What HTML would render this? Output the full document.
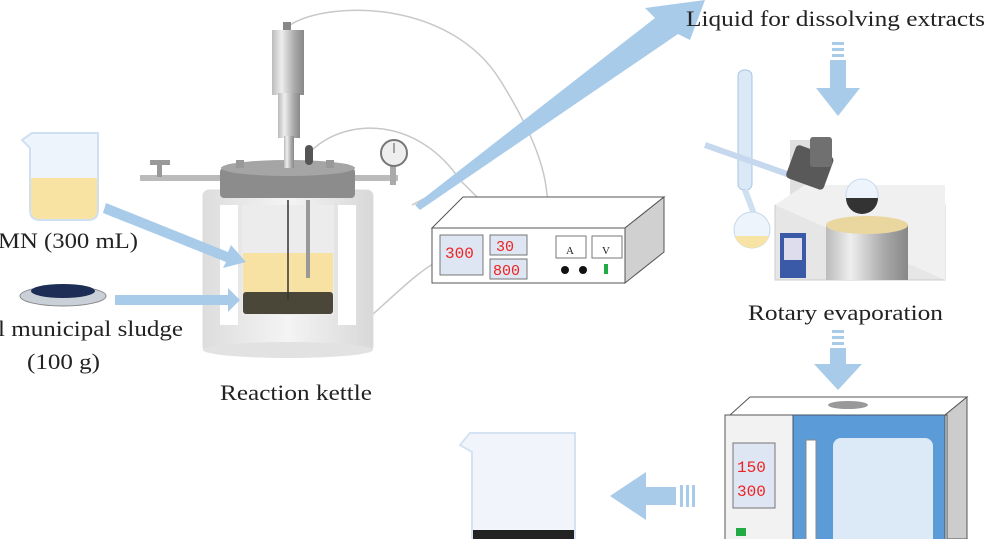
<!DOCTYPE html>
<html><head><meta charset="utf-8"><style>
html,body{margin:0;padding:0;background:#fff;width:1000px;height:539px;overflow:hidden}
svg text{font-family:"Liberation Serif",serif;fill:#222}
</style></head><body>
<svg width="1000" height="539" viewBox="0 0 1000 539" xmlns="http://www.w3.org/2000/svg">
<defs>
<linearGradient id="cyl" x1="0" x2="1"><stop offset="0" stop-color="#bbb"/><stop offset="0.3" stop-color="#eee"/><stop offset="0.7" stop-color="#aaa"/><stop offset="1" stop-color="#888"/></linearGradient>
<linearGradient id="jack" x1="0" x2="1"><stop offset="0" stop-color="#ddd"/><stop offset="0.5" stop-color="#f4f4f4"/><stop offset="1" stop-color="#d8d8d8"/></linearGradient>
</defs>
<!-- wires -->
<g fill="none" stroke="#c8c8c8" stroke-width="1.5">
<path d="M290 25 C330 0 450 0 500 80 S545 190 548 200"/>
<path d="M312 150 C350 115 420 120 460 180 L480 200"/>
<path d="M372 315 C400 290 420 270 440 260"/>
<path d="M412 205 L440 190"/>
</g>
<!-- big diagonal arrow -->
<path d="M415 205 L655 18 L645 8 L705 0 L690 40 L678 34 L420 210 Z" fill="#a9cbea"/>
<!-- left beaker -->
<path d="M22 140 L32 133 L98 133 L98 210 Q98 220 88 220 L40 220 Q30 220 30 210 L30 148 Z" fill="#eef4fb" stroke="#cfe0f2" stroke-width="2"/>
<path d="M31 178 L97 178 L97 210 Q97 219 88 219 L40 219 Q31 219 31 210 Z" fill="#f8e3a3"/>
<text x="-2" y="248" font-size="22" textLength="140" lengthAdjust="spacingAndGlyphs">MN (300 mL)</text>
<!-- dish -->
<ellipse cx="63" cy="296" rx="43" ry="10" fill="#c9d0d8" stroke="#888"/>
<ellipse cx="63" cy="291" rx="32" ry="7" fill="#1e2d55"/>
<text x="-2" y="336" font-size="22" textLength="185" lengthAdjust="spacingAndGlyphs">l municipal sludge</text>
<text x="27" y="369" font-size="22" textLength="73" lengthAdjust="spacingAndGlyphs">(100 g)</text>
<!-- kettle -->
<rect x="203" y="190" width="170" height="162" rx="6" fill="url(#jack)" stroke="#ddd"/>
<ellipse cx="288" cy="350" rx="85" ry="8" fill="#e2e2e2"/>
<rect x="220" y="205" width="18" height="120" fill="#fff"/>
<rect x="338" y="205" width="18" height="120" fill="#fff"/>
<rect x="242" y="205" width="92" height="110" fill="#ececec"/>
<rect x="243" y="253" width="90" height="40" fill="#f7e2a4"/>
<rect x="243" y="292" width="90" height="22" rx="3" fill="#4b4738"/>
<line x1="288" y1="200" x2="288" y2="300" stroke="#333" stroke-width="1.5"/>
<rect x="306" y="200" width="4" height="78" fill="#999"/>
<!-- feed arrows -->
<path d="M106 203 L228 252 L231 245 L246 262 L223 268 L226 262 L103 213 Z" fill="#a9cbea"/>
<path d="M115 295 L228 295 L228 288 L240 300 L228 312 L228 305 L115 305 Z" fill="#a9cbea"/>
<!-- pipes & valves -->
<rect x="140" y="175" width="85" height="6" fill="#bbb"/>
<rect x="150" y="160" width="20" height="5" fill="#999"/><rect x="157" y="163" width="5" height="14" fill="#999"/>
<rect x="350" y="175" width="48" height="6" fill="#bbb"/>
<rect x="390" y="165" width="6" height="20" fill="#aaa"/>
<circle cx="394" cy="153" r="13" fill="#eee" stroke="#777" stroke-width="2"/>
<line x1="394" y1="153" x2="394" y2="143" stroke="#555"/>
<!-- lid -->
<rect x="220" y="168" width="135" height="30" rx="4" fill="#8c8c8c"/>
<ellipse cx="288" cy="168" rx="67" ry="8" fill="#a5a5a5"/>
<rect x="236" y="160" width="8" height="8" fill="#999"/><rect x="326" y="160" width="8" height="8" fill="#999"/>
<rect x="305" y="145" width="8" height="20" rx="4" fill="#555"/>
<!-- motor -->
<rect x="283" y="22" width="8" height="10" fill="#888"/>
<rect x="272" y="30" width="32" height="65" fill="url(#cyl)"/>
<rect x="278" y="93" width="22" height="45" fill="url(#cyl)"/>
<rect x="284" y="136" width="10" height="32" fill="url(#cyl)"/>
<text x="220" y="400" font-size="22" textLength="152" lengthAdjust="spacingAndGlyphs">Reaction kettle</text>
<!-- power supply -->
<path d="M432 228 L463 197 L664 197 L625 228 Z" fill="#fff" stroke="#555"/>
<path d="M625 228 L664 197 L664 252 L625 283 Z" fill="#d0d0d0" stroke="#555"/>
<rect x="432" y="228" width="193" height="55" fill="#fff" stroke="#555"/>
<rect x="440" y="235" width="43" height="40" fill="#dde6f2" stroke="#777"/>
<text x="445" y="258" font-size="16" style="fill:#e22;font-family:'Liberation Mono',monospace">300</text>
<rect x="490" y="235" width="37" height="20" fill="#dde6f2" stroke="#777"/>
<text x="496" y="251" font-size="15" style="fill:#e22;font-family:'Liberation Mono',monospace">30</text>
<rect x="490" y="259" width="37" height="20" fill="#dde6f2" stroke="#777"/>
<text x="493" y="275" font-size="15" style="fill:#e22;font-family:'Liberation Mono',monospace">800</text>
<rect x="556" y="236" width="30" height="22" fill="#fff" stroke="#777"/><text x="566" y="254" font-size="11">A</text>
<rect x="592" y="236" width="30" height="22" fill="#fff" stroke="#777"/><text x="602" y="254" font-size="11">V</text>
<circle cx="565" cy="270" r="4" fill="#111"/><circle cx="583" cy="270" r="4" fill="#111"/>
<rect x="604" y="264" width="4" height="10" fill="#2a4"/>
<!-- top label & arrows -->
<text x="686" y="26" font-size="22" textLength="299" lengthAdjust="spacingAndGlyphs">Liquid for dissolving extracts</text>
<g fill="#a9cbea">
<rect x="832" y="42" width="12" height="3"/><rect x="832" y="48" width="12" height="3"/><rect x="832" y="54" width="12" height="3"/>
<path d="M830 60 L846 60 L846 88 L860 88 L838 116 L816 88 L830 88 Z"/>
<rect x="832" y="330" width="12" height="3"/><rect x="832" y="336" width="12" height="3"/><rect x="832" y="342" width="12" height="3"/>
<path d="M830 348 L846 348 L846 364 L862 364 L838 390 L814 364 L830 364 Z"/>
<rect x="680" y="485" width="3" height="22"/><rect x="686" y="485" width="3" height="22"/><rect x="692" y="485" width="3" height="22"/>
<path d="M676 487 L676 505 L646 505 L646 520 L610 496 L646 472 L646 487 Z"/>
</g>
<!-- rotary evaporator -->
<rect x="738" y="70" width="14" height="120" rx="6" fill="#dbe8f6" stroke="#a6c4e6"/>
<path d="M745 190 L760 230" stroke="#cfe0f0" stroke-width="6"/>
<circle cx="752" cy="230" r="18" fill="#eef4fb" stroke="#c5d8ee"/>
<path d="M735 236 A18 18 0 0 0 769 236 Z" fill="#f7e3a3"/>
<path d="M705 145 L790 175" stroke="#c5d8ee" stroke-width="6"/>
<rect x="790" y="140" width="28" height="70" fill="#e0e0e0"/>
<rect x="775" y="205" width="170" height="75" fill="#e6e6e6" stroke="#ccc"/>
<path d="M775 205 L805 185 L945 185 L945 280 Z" fill="#f0f0f0"/>
<rect x="790" y="150" width="40" height="35" rx="4" fill="#595959" transform="rotate(20 810 167)"/>
<rect x="810" y="137" width="22" height="30" rx="3" fill="#707070"/>
<circle cx="862" cy="195" r="16" fill="#eef4fb" stroke="#c5d8ee"/>
<path d="M846 198 A16 16 0 0 0 878 198 Z" fill="#333"/>
<rect x="826" y="225" width="82" height="55" fill="url(#cyl)"/>
<ellipse cx="867" cy="225" rx="41" ry="9" fill="#ead7a0"/>
<rect x="780" y="233" width="26" height="45" fill="#3a5aa8"/>
<rect x="784" y="238" width="18" height="22" fill="#dde"/>
<text x="748" y="320" font-size="22" textLength="195" lengthAdjust="spacingAndGlyphs">Rotary evaporation</text>
<!-- oven -->
<path d="M730 415 L750 397 L967 397 L945 415 Z" fill="#fff" stroke="#555"/>
<ellipse cx="848" cy="405" rx="20" ry="4" fill="#999"/>
<path d="M945 415 L967 397 L967 539 L945 539 Z" fill="#ccc" stroke="#555"/>
<rect x="725" y="415" width="222" height="130" fill="#f2f2f2" stroke="#555"/>
<rect x="793" y="415" width="152" height="130" fill="#5b9bd8" stroke="#456"/>
<rect x="833" y="438" width="100" height="110" rx="8" fill="#dce9f6"/>
<rect x="806" y="440" width="10" height="100" fill="#fff" stroke="#888"/>
<rect x="733" y="443" width="42" height="65" fill="#dde6f2" stroke="#777"/>
<text x="737" y="472" font-size="16" style="fill:#e22;font-family:'Liberation Mono',monospace">150</text>
<text x="737" y="496" font-size="16" style="fill:#e22;font-family:'Liberation Mono',monospace">300</text>
<rect x="736" y="528" width="10" height="8" fill="#2a4"/>
<!-- bottom beaker -->
<path d="M460 445 L470 433 L575 433 L575 539 L472 539 L472 452 Z" fill="#f1f5fb" stroke="#d4e2f2" stroke-width="2"/>
<rect x="473" y="530" width="101" height="9" fill="#222"/>
</svg>
</body></html>
